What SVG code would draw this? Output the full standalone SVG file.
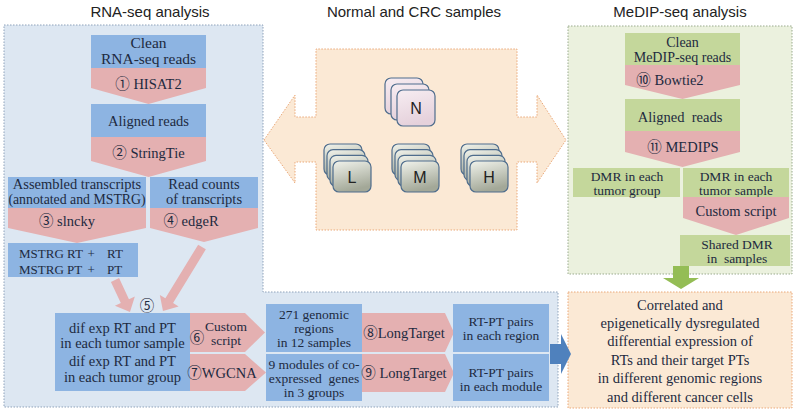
<svg xmlns="http://www.w3.org/2000/svg" width="797" height="410" viewBox="0 0 797 410">
<defs>
<style>
.t{font-family:"Liberation Sans",Arial,sans-serif;font-size:15px;fill:#222;text-anchor:middle}
.s{font-family:"Liberation Serif","Noto Sans CJK SC","Times New Roman",serif;font-size:14.5px;fill:#1d2a40;text-anchor:middle}
.big{font-size:15.5px}
.sm{font-size:13.5px}
.blue{fill:#8db4e2}
.pink{fill:#e4b0b1}
.green{fill:#c4d79b}
.card{stroke:#4f6d8d;stroke-width:1.2}
.gc{fill:url(#gGray)}
.pc{fill:url(#gPink)}
.lt{font-family:"Liberation Sans",Arial,sans-serif;font-size:16px;fill:#222;text-anchor:middle}
</style>
<linearGradient id="gGray" x1="0" y1="0" x2="0.3" y2="1"><stop offset="0" stop-color="#f1f3ec"/><stop offset="1" stop-color="#a3a898"/></linearGradient>
<linearGradient id="gPink" x1="0" y1="0" x2="0.3" y2="1"><stop offset="0" stop-color="#f7edf2"/><stop offset="1" stop-color="#e5d1db"/></linearGradient>
</defs>

<!-- panels -->
<g id="rna-panel">
<path d="M4,25 H263 V292 H558 V407 H4 Z" fill="#dde7f2" stroke="#8fa2ba" stroke-width="1" stroke-dasharray="1.5,1.5"/>
<text class="t" x="150" y="17">RNA-seq analysis</text>
</g>
<g id="medip-panel">
<rect x="568" y="26" width="224" height="248" fill="#ebf1de" stroke="#9aab8e" stroke-width="1" stroke-dasharray="1.5,1.5"/>
<text class="t" x="680" y="17">MeDIP-seq analysis</text>
</g>
<g id="samples">
<text class="t" x="414" y="17">Normal and CRC samples</text>
<polygon points="264,140 295,95 295,117 316,117 316,49 517,49 517,117 537,117 537,95 566,140 537,183 537,162 517,162 517,230 316,230 316,162 295,162 295,183" fill="#fbe9d5" stroke="#eaa878" stroke-width="1" stroke-dasharray="1.5,1.5"/>
</g>
<g id="stack-N">
<rect class="card pc" x="385" y="78" width="38" height="36" rx="6"/>
<rect class="card pc" x="391" y="84" width="38" height="36" rx="6"/>
<rect class="card pc" x="397" y="90" width="38" height="36" rx="6"/>
<text class="lt" x="416" y="114">N</text>
</g>
<g id="stack-L">
<rect class="card gc" x="324" y="144" width="38" height="31" rx="6"/>
<rect class="card gc" x="327" y="149.7" width="38" height="31" rx="6"/>
<rect class="card gc" x="330" y="155.3" width="38" height="31" rx="6"/>
<rect class="card gc" x="333" y="161" width="38" height="31" rx="6"/>
<text class="lt" x="352" y="182.5">L</text>
</g>
<g id="stack-M">
<rect class="card gc" x="392" y="144" width="38" height="31" rx="6"/>
<rect class="card gc" x="395" y="149.7" width="38" height="31" rx="6"/>
<rect class="card gc" x="398" y="155.3" width="38" height="31" rx="6"/>
<rect class="card gc" x="401" y="161" width="38" height="31" rx="6"/>
<text class="lt" x="420" y="182.5">M</text>
</g>
<g id="stack-H">
<rect class="card gc" x="461" y="144" width="38" height="31" rx="6"/>
<rect class="card gc" x="464" y="149.7" width="38" height="31" rx="6"/>
<rect class="card gc" x="467" y="155.3" width="38" height="31" rx="6"/>
<rect class="card gc" x="470" y="161" width="38" height="31" rx="6"/>
<text class="lt" x="489" y="182.5">H</text>
</g>

<!-- RNA-seq nodes -->
<g id="clean-rna">
<rect class="blue" x="91" y="35" width="115" height="33"/>
<text class="s big" x="148.5" y="48">Clean</text>
<text class="s big" x="148.5" y="64">RNA-seq reads</text>
</g>
<g id="step1">
<polygon class="pink" points="91,68 206,68 206,88 148.5,104 91,88"/>
<text class="s" x="148.5" y="89">① HISAT2</text>
</g>
<g id="aligned-rna">
<rect class="blue" x="91" y="104" width="115" height="33"/>
<text class="s" x="148.5" y="126">Aligned reads</text>
</g>
<g id="step2">
<polygon class="pink" points="91,137 206,137 206,161 148.5,177 91,161"/>
<text class="s" x="148.5" y="158">② StringTie</text>
</g>
<g id="assembled">
<rect class="blue" x="8" y="177" width="138" height="31"/>
<text class="s" x="77" y="189">Assembled transcripts</text>
<text class="s" x="77" y="204" style="font-size:13.8px">(annotated and MSTRG)</text>
</g>
<g id="step3">
<polygon class="pink" points="8,208 146,208 146,228 77,243 8,228"/>
<text class="s" x="67" y="226">③ slncky</text>
</g>
<g id="readcounts">
<rect class="blue" x="150" y="177" width="108" height="31"/>
<text class="s" x="204" y="189">Read counts</text>
<text class="s" x="204" y="204">of transcripts</text>
</g>
<g id="step4">
<polygon class="pink" points="150,208 258,208 258,228 204,242 150,228"/>
<text class="s" x="191" y="226">④ edgeR</text>
</g>
<g id="mstrg">
<rect class="blue" x="8" y="243" width="130" height="34"/>
<text class="s" style="text-anchor:start;font-size:13px" y="258"><tspan x="19">MSTRG RT</tspan><tspan x="87.5">+</tspan><tspan x="107">RT</tspan></text>
<text class="s" style="text-anchor:start;font-size:13px" y="274"><tspan x="19">MSTRG PT</tspan><tspan x="87.5">+</tspan><tspan x="107">PT</tspan></text>
</g>
<g id="step5">
<text class="s" x="147" y="311">⑤</text>
</g>
<g id="difexp">
<rect class="blue" x="55" y="313" width="135" height="78"/>
<text class="s" x="122.5" y="333">dif exp RT and PT</text>
<text class="s" x="122.5" y="348">in each tumor sample</text>
<text class="s" x="122.5" y="366">dif exp RT and PT</text>
<text class="s" x="122.5" y="382">in each tumor group</text>
</g>
<g id="step6">
<polygon class="pink" points="190,313 245,313 265,332.5 245,352 190,352"/>
<text class="s" x="197" y="343">⑥</text>
<text class="s sm" x="226" y="331">Custom</text>
<text class="s sm" x="226" y="345">script</text>
</g>
<g id="step7">
<polygon class="pink" points="190,354 245,354 266,372.5 245,391 190,391"/>
<text class="s" x="222" y="378">⑦WGCNA</text>
</g>
<g id="regions271">
<rect class="blue" x="266" y="304" width="96" height="48"/>
<text class="s sm" x="314" y="319">271 genomic</text>
<text class="s sm" x="314" y="333">regions</text>
<text class="s sm" x="314" y="347">in 12 samples</text>
</g>
<g id="modules9">
<rect class="blue" x="266" y="354" width="96" height="47"/>
<text class="s sm" x="314" y="369">9 modules of co-</text>
<text class="s sm" x="314" y="383" xml:space="preserve">expressed  genes</text>
<text class="s sm" x="314" y="397">in 3 groups</text>
</g>
<g id="step8">
<polygon class="pink" points="362,313 445,313 454,332.5 445,352 362,352"/>
<text class="s" x="404" y="338">⑧LongTarget</text>
</g>
<g id="step9">
<polygon class="pink" points="362,354 445,354 454,373 445,392 362,392"/>
<text class="s" x="404" y="378">⑨ LongTarget</text>
</g>
<g id="pairs-region">
<rect class="blue" x="453" y="304" width="96" height="48"/>
<text class="s sm" x="501" y="326">RT-PT pairs</text>
<text class="s sm" x="501" y="340">in each region</text>
</g>
<g id="pairs-module">
<rect class="blue" x="453" y="354" width="96" height="47"/>
<text class="s sm" x="501" y="377">RT-PT pairs</text>
<text class="s sm" x="501" y="391">in each module</text>
</g>

<!-- MeDIP-seq nodes -->
<g id="clean-medip">
<rect class="green" x="625" y="33" width="115" height="32"/>
<text class="s" style="font-size:14px" x="682.5" y="46.5">Clean</text>
<text class="s" style="font-size:14px" x="682.5" y="61.5">MeDIP-seq reads</text>
</g>
<g id="step10">
<polygon class="pink" points="625,65 740,65 740,85 682.5,99 625,85"/>
<text class="s" x="670" y="85">⑩ Bowtie2</text>
</g>
<g id="aligned-medip">
<rect class="green" x="625" y="99" width="115" height="32"/>
<text class="s" x="680" y="122" xml:space="preserve">Aligned  reads</text>
</g>
<g id="step11">
<polygon class="pink" points="625,131 740,131 740,152 682.5,167 625,152"/>
<text class="s" x="683" y="152">⑪ MEDIPS</text>
</g>
<g id="dmr-group">
<rect class="green" x="573" y="168" width="107" height="29"/>
<text class="s sm" x="627" y="180.5">DMR in each</text>
<text class="s sm" x="627" y="194.5">tumor group</text>
</g>
<g id="dmr-sample">
<rect class="green" x="683" y="168" width="106" height="29"/>
<text class="s sm" x="736" y="180.5">DMR in each</text>
<text class="s sm" x="736" y="194.5">tumor sample</text>
</g>
<g id="step-custom">
<polygon class="pink" points="683,197 789,197 789,218 736,235 683,218"/>
<text class="s" x="736" y="216">Custom script</text>
</g>
<g id="shared-dmr">
<rect class="green" x="680" y="235" width="110" height="31"/>
<text class="s sm" x="737" y="249">Shared DMR</text>
<text class="s sm" x="737" y="263" xml:space="preserve">in  samples</text>
</g>

<g id="result">
<rect x="568" y="292" width="224" height="116" fill="#fbe9d5" stroke="#eaa878" stroke-width="1" stroke-dasharray="1.5,1.5"/>
<text class="s" x="680" y="310">Correlated and</text>
<text class="s" x="680" y="328">epigenetically dysregulated</text>
<text class="s" x="680" y="346">differential expression of</text>
<text class="s" x="680" y="365">RTs and their target PTs</text>
<text class="s" x="680" y="383">in different genomic regions</text>
<text class="s" x="680" y="402">and different cancer cells</text>
</g>

<!-- connectors -->
<g id="connectors">
<path class="pink" transform="translate(115,280) rotate(64.9)" d="M0,-4.5 H23.3 V-11 L35.3,0 L23.3,11 V4.5 H0 Z"/>
<path class="pink" transform="translate(202,247) rotate(121.4)" d="M0,-4.5 H62.9 V-11 L74.9,0 L62.9,11 V4.5 H0 Z"/>
<path d="M550,344 H561 V334 L571,354 L561,374 V364 H550 Z" fill="#4f81bd"/>
<path d="M673,266 H689 V278 H699 L681,289 L663,278 H673 Z" fill="#94bd55"/>
</g>
</svg>
